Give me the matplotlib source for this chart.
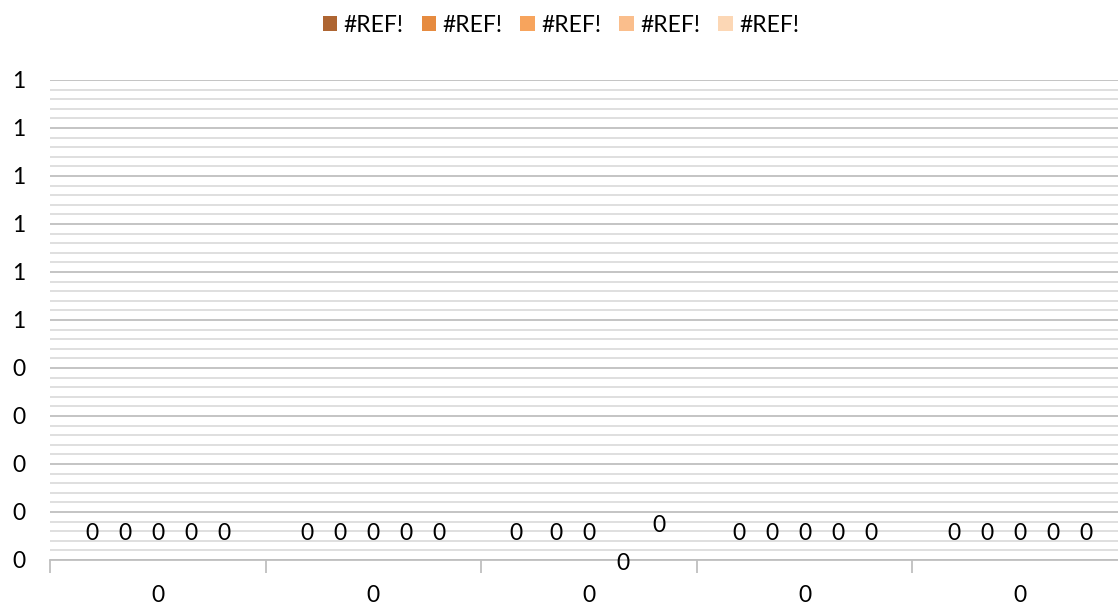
import numpy as np
import matplotlib
matplotlib.use("Agg")
import matplotlib.pyplot as plt
from matplotlib.ticker import FixedLocator, MultipleLocator, FuncFormatter

# data (every cell in the source sheet is a #REF! / zero)
categories = ["0", "0", "0", "0", "0"]
series_names = ["#REF!", "#REF!", "#REF!", "#REF!", "#REF!"]
series_values = [
    [0, 0, 0, 0, 0],
    [0, 0, 0, 0, 0],
    [0, 0, 0, 0, 0],
    [0, 0, 0, 0, 0],
    [0, 0, 0, 0, 0],
]
colors = ["#AE6532", "#E68B40", "#F7A45D", "#FABE8C", "#FCD7B5"]

# manually dragged data labels in the third group (pixel nudges)
label_nudge = {(2, 0): (-7, 0), (2, 3): (1, -29), (2, 4): (4, 8)}

plt.rcParams['font.family'] = ['Lato', 'DejaVu Sans']
fs = 16.5

fig = plt.figure(figsize=(11.18, 6.06), dpi=100)
ax = fig.add_axes([50 / 1118, 46 / 606, 1078 / 1118, 480 / 606])

n_ser = len(series_values)
bar_w = 0.153
x = np.arange(len(categories))
for i, vals in enumerate(series_values):
    xs = x + (i - (n_ser - 1) / 2) * bar_w
    ax.bar(xs, vals, width=bar_w, color=colors[i], label=series_names[i], zorder=3)
    for j, (xx, v) in enumerate(zip(xs, vals)):
        dx, dy = label_nudge.get((j, i), (0, 0))
        ax.annotate("{:.0f}".format(v), (xx, v), xytext=(dx, 26 + dy),
                    textcoords='offset pixels', ha='center', va='center',
                    fontsize=fs, color='black', zorder=4)

ax.set_xlim(-0.5, len(categories) - 0.5)
ax.set_ylim(0, 1)

# y axis: major every 0.1, minor every 0.02, Excel style rounding of labels
ax.yaxis.set_major_locator(MultipleLocator(0.1))
ax.yaxis.set_minor_locator(MultipleLocator(0.02))
ax.yaxis.set_major_formatter(FuncFormatter(lambda v, p: str(int(np.floor(v + 0.5 + 1e-9)))))
ax.grid(axis='y', which='major', color='#BFBFBF', linewidth=1.3, zorder=0)
ax.grid(axis='y', which='minor', color='#D9D9D9', linewidth=1.2, zorder=0)
ax.tick_params(axis='y', which='both', length=0, labelsize=fs, pad=27)
for lab in ax.get_yticklabels():
    lab.set_horizontalalignment('left')

# x axis: tick marks on group boundaries, labels at group centres
ax.xaxis.set_major_locator(FixedLocator(np.arange(len(categories) + 1) - 0.5))
ax.xaxis.set_minor_locator(FixedLocator(x))
ax.set_xticklabels([])
ax.set_xticklabels(categories, minor=True)
ax.tick_params(axis='x', which='major', length=9, width=1.3, color='#BFBFBF', direction='out')
ax.tick_params(axis='x', which='minor', length=0, labelsize=fs, pad=18)

for s in ['top', 'right', 'left']:
    ax.spines[s].set_visible(False)
ax.spines['bottom'].set_color('#BFBFBF')
ax.spines['bottom'].set_linewidth(1.3)

fig.legend(loc='center', bbox_to_anchor=(561 / 1118, 1 - 25 / 606), ncol=5,
           frameon=False, fontsize=fs, handlelength=0.62, handleheight=0.62,
           handletextpad=0.3, columnspacing=0.78)

fig.savefig("out.png", dpi=100)
